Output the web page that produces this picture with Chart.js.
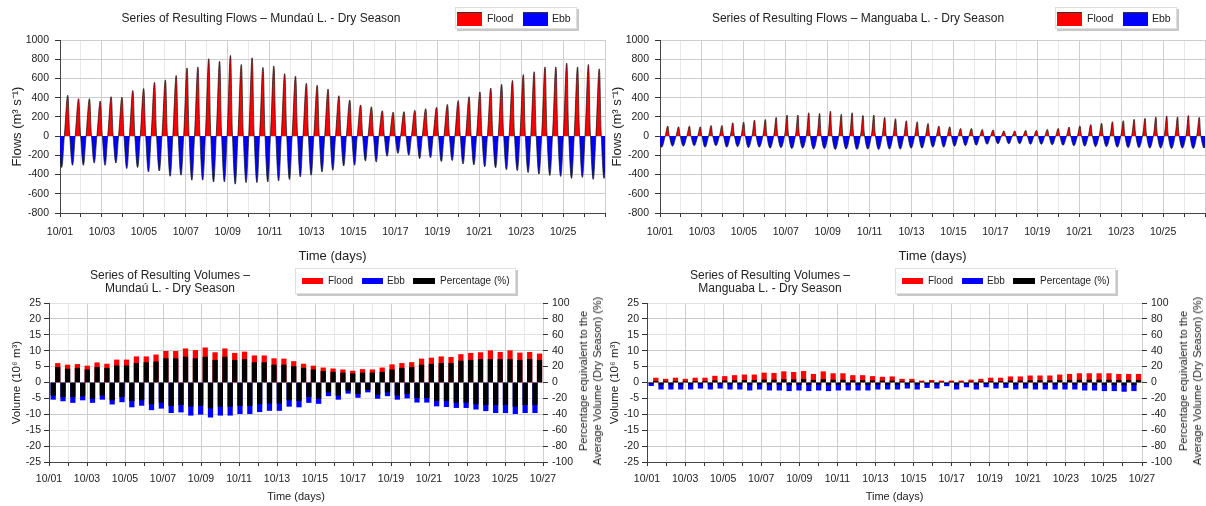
<!DOCTYPE html>
<html>
<head>
<meta charset="utf-8">
<script src="https://cdn.jsdelivr.net/npm/chart.js@4.4.1/dist/chart.umd.min.js"></script>
<style>
  html, body { margin: 0; padding: 0; background: #fff; }
  body { position: relative; width: 1206px; height: 506px; overflow: hidden;
         font-family: 'Liberation Sans', Arial, sans-serif; color: #222; }
  canvas { position: absolute; }
  .title { position: absolute; transform: translateX(-50%); white-space: nowrap;
           text-align: center; font-size: 12px; line-height: 13px; }
  .legend { position: absolute; background: #fff; border: 1px solid #dedede;
            box-shadow: 2px 2px 0 #c8c8c8; }
  .sw { position: absolute; }
  .lt { position: absolute; font-size: 10.5px; line-height: 12px; white-space: nowrap; }
  .lb { position: absolute; font-size: 10px; line-height: 12px; white-space: nowrap; }
  .side { position: absolute; transform: translate(-50%, -50%) rotate(-90deg);
          white-space: nowrap; text-align: center; font-size: 11px; line-height: 14px; }
</style>
</head>
<body>
<canvas id="flowMundau" width="614" height="266" style="left:0;top:0"></canvas>
<canvas id="flowManguaba" width="614" height="266" style="left:600px;top:0"></canvas>
<canvas id="volMundau" width="600" height="244" style="left:0;top:262px"></canvas>
<canvas id="volManguaba" width="606" height="244" style="left:600px;top:262px"></canvas>

<!-- panel titles -->
<div class="title" style="left:261px;top:12px">Series of Resulting Flows – Mundaú L. - Dry Season</div>
<div class="title" style="left:858px;top:12px">Series of Resulting Flows – Manguaba L. - Dry Season</div>
<div class="title" style="left:170px;top:269px">Series of Resulting Volumes –<br>Mundaú L. - Dry Season</div>
<div class="title" style="left:770px;top:269px">Series of Resulting Volumes –<br>Manguaba L. - Dry Season</div>

<!-- flow legends -->
<div class="legend" style="left:455px;top:7px;width:120px;height:20px"></div>
<div class="sw" style="left:457px;top:12px;width:25px;height:13px;background:#ff0000;border-top:1px solid #333"></div>
<div class="lt" style="left:487px;top:12px">Flood</div>
<div class="sw" style="left:523px;top:12px;width:25px;height:13px;background:#0000ff;border-top:1px solid #333"></div>
<div class="lt" style="left:552px;top:12px">Ebb</div>

<div class="legend" style="left:1055px;top:7px;width:120px;height:20px"></div>
<div class="sw" style="left:1057px;top:12px;width:25px;height:13px;background:#ff0000;border-top:1px solid #333"></div>
<div class="lt" style="left:1087px;top:12px">Flood</div>
<div class="sw" style="left:1123px;top:12px;width:25px;height:13px;background:#0000ff;border-top:1px solid #333"></div>
<div class="lt" style="left:1152px;top:12px">Ebb</div>

<!-- volume legends -->
<div class="legend" style="left:295px;top:268px;width:219px;height:24px"></div>
<div class="sw" style="left:302px;top:278px;width:21px;height:6px;background:#ff0000"></div>
<div class="lb" style="left:328px;top:275px">Flood</div>
<div class="sw" style="left:362px;top:278px;width:21px;height:6px;background:#0000ff"></div>
<div class="lb" style="left:387px;top:275px">Ebb</div>
<div class="sw" style="left:413px;top:278px;width:22px;height:6px;background:#000"></div>
<div class="lb" style="left:440px;top:275px">Percentage (%)</div>

<div class="legend" style="left:895px;top:268px;width:219px;height:24px"></div>
<div class="sw" style="left:902px;top:278px;width:21px;height:6px;background:#ff0000"></div>
<div class="lb" style="left:928px;top:275px">Flood</div>
<div class="sw" style="left:962px;top:278px;width:21px;height:6px;background:#0000ff"></div>
<div class="lb" style="left:987px;top:275px">Ebb</div>
<div class="sw" style="left:1013px;top:278px;width:22px;height:6px;background:#000"></div>
<div class="lb" style="left:1040px;top:275px">Percentage (%)</div>

<!-- right-hand axis titles of the volume panels -->
<div class="side" style="left:590px;top:381px">Percentage equivalent to the<br>Average Volume (Dry Season) (%)</div>
<div class="side" style="left:1190px;top:381px">Percentage equivalent to the<br>Average Volume (Dry Season) (%)</div>

<script>
// ---- tick labels -------------------------------------------------------
const dayLabels = ['10/01','10/02','10/03','10/04','10/05','10/06','10/07','10/08','10/09',
  '10/10','10/11','10/12','10/13','10/14','10/15','10/16','10/17','10/18','10/19','10/20',
  '10/21','10/22','10/23','10/24','10/25','10/26','10/27'];

// ---- resulting flows (m³ s⁻¹): peak flood and peak ebb of each tidal cycle ----
const mundauFloodPeak = [425, 390, 390, 365, 410, 405, 475, 495, 560, 585,
  630, 710, 720, 805, 780, 840, 745, 815, 715, 730,
  650, 625, 550, 530, 490, 420, 375, 325, 305, 265,
  250, 255, 270, 285, 300, 330, 370, 410, 460, 500,
  540, 580, 640, 670, 720, 720, 760, 720, 745, 700];
const mundauEbbPeak = [-327, -304, -304, -280, -304, -280, -338, -327, -373, -363,
  -418, -407, -459, -459, -477, -477, -500, -484, -484, -477,
  -466, -452, -425, -407, -373, -356, -311, -304, -259, -269,
  -210, -180, -200, -235, -225, -265, -255, -290, -300, -320,
  -330, -350, -360, -380, -395, -410, -420, -440, -430, -450, -440];

const manguabaFloodPeak = [104, 97, 104, 97, 111, 111, 139, 146, 167, 174,
  195, 219, 219, 243, 236, 260, 226, 243, 215, 219,
  195, 181, 160, 149, 132, 104, 97, 80, 80, 70,
  65, 55, 55, 60, 60, 70, 80, 95, 105, 120,
  135, 150, 160, 175, 185, 200, 210, 200, 215, 195];
const manguabaEbbPeak = [-115, -105, -105, -100, -115, -100, -115, -110, -120, -115,
  -125, -120, -130, -125, -135, -130, -140, -135, -140, -135,
  -140, -135, -135, -125, -125, -115, -115, -105, -100, -95,
  -85, -80, -80, -80, -85, -85, -90, -95, -100, -105,
  -110, -110, -115, -120, -120, -125, -125, -130, -125, -130, -125];

// ---- resulting volumes per tide (10⁶ m³) ----
const mundauFloodVol = [6.0, 5.5, 5.7, 5.2, 6.2, 5.8, 7.1, 7.1, 8.1, 8.1,
  8.7, 9.8, 9.8, 10.6, 10.1, 10.9, 9.4, 10.6, 9.2, 9.6,
  8.4, 8.4, 7.5, 7.4, 6.6, 5.8, 5.2, 4.6, 4.3, 4.0,
  3.6, 4.1, 4.0, 4.6, 5.6, 6.0, 6.3, 7.4, 7.7, 8.1,
  7.9, 8.8, 9.2, 9.4, 10.0, 9.5, 10.0, 9.3, 9.5, 9.0];
const mundauEbbVol = [-5.3, -5.8, -6.3, -5.5, -6.3, -5.3, -6.8, -6.1, -7.7, -7.2,
  -8.6, -8.1, -9.5, -9.3, -10.3, -10.0, -10.9, -10.3, -10.3, -9.8,
  -9.8, -9.2, -8.8, -8.8, -7.5, -7.7, -6.3, -6.6, -4.2, -5.3,
  -3.4, -4.7, -3.0, -5.0, -4.2, -5.3, -4.9, -6.2, -6.2, -7.4,
  -7.6, -7.9, -7.9, -8.4, -8.9, -9.5, -9.5, -9.8, -9.5, -9.5];
// share of the average lagoon volume (%)
const mundauFloodPct = [19, 17, 18, 16, 19, 18, 21, 21, 24, 25,
  26, 30, 30, 32, 30, 32, 28, 32, 28, 29,
  25, 25, 22, 22, 20, 18, 16, 14, 13, 12,
  11, 12, 12, 13, 16, 18, 19, 22, 23, 24,
  24, 27, 28, 29, 29, 29, 29, 28, 29, 28];
const mundauEbbPct = [-16, -18, -18, -17, -20, -16, -22, -18, -23, -22,
  -27, -25, -29, -28, -30, -29, -32, -30, -30, -29,
  -29, -27, -26, -26, -22, -23, -18, -20, -12, -16,
  -10, -14, -9, -15, -12, -16, -14, -19, -19, -23,
  -23, -25, -25, -27, -28, -28, -28, -30, -28, -28];

const manguabaFloodVol = [1.4, 1.05, 1.4, 1.05, 1.4, 1.4, 2.0, 1.9, 2.2, 2.4,
  2.4, 3.0, 2.9, 3.4, 3.2, 3.5, 2.6, 3.4, 2.8, 2.8,
  2.2, 2.2, 1.9, 1.7, 1.8, 1.05, 1.05, 0.5, 0.7, 0.5,
  0.5, 0.5, 0.8, 1.05, 1.4, 1.4, 1.8, 1.8, 2.1, 2.1,
  2.1, 2.4, 2.6, 2.8, 2.8, 2.8, 2.8, 2.6, 2.6, 2.6];
const manguabaEbbVol = [-1.0, -2.1, -2.1, -2.1, -2.1, -1.8, -2.1, -1.8, -2.1, -2.1,
  -2.4, -2.1, -2.4, -2.4, -2.6, -2.4, -2.6, -2.4, -2.6, -2.4,
  -2.4, -2.4, -2.4, -2.1, -2.1, -2.1, -1.8, -2.1, -1.6, -1.8,
  -1.05, -2.1, -1.4, -2.1, -1.4, -1.8, -1.6, -2.1, -1.8, -2.1,
  -2.1, -2.1, -2.1, -2.1, -2.4, -2.4, -2.6, -2.6, -2.8, -2.6];
const manguabaFloodPct = [1.5, 1.2, 1.5, 1.2, 1.5, 1.5, 2.2, 2.1, 2.4, 2.6,
  2.6, 3.3, 3.2, 3.7, 3.5, 3.9, 2.9, 3.7, 3.1, 3.1,
  2.4, 2.4, 2.1, 1.9, 2.0, 1.2, 1.2, 0.6, 0.8, 0.6,
  0.6, 0.6, 0.9, 1.2, 1.5, 1.5, 2.0, 2.0, 2.3, 2.3,
  2.3, 2.6, 2.9, 3.1, 3.1, 3.1, 3.1, 2.9, 2.9, 2.9];
const manguabaEbbPct = [-1.1, -2.3, -2.3, -2.3, -2.3, -2.0, -2.3, -2.0, -2.3, -2.3,
  -2.6, -2.3, -2.6, -2.6, -2.9, -2.6, -2.9, -2.6, -2.9, -2.6,
  -2.6, -2.6, -2.6, -2.3, -2.3, -2.3, -2.0, -2.3, -1.8, -2.0,
  -1.2, -2.3, -1.5, -2.3, -1.5, -2.0, -1.8, -2.3, -2.0, -2.3,
  -2.3, -2.3, -2.3, -2.3, -2.6, -2.6, -2.9, -2.9, -3.1, -2.9];

// ---- tidal timing (days after 10/01 00:00) ----
const TIDE_PERIOD = 12.42 / 24;     // semidiurnal cycle
const FLOW_EBB_T0 = 0.08;           // first ebb peak
const FLOW_FLOOD_T0 = 0.367;        // first flood peak
const VOL_EBB_T0 = 0.22;            // first ebb volume bar
const VOL_FLOOD_T0 = 0.46;          // first flood volume bar

Chart.defaults.font.family = "'Liberation Sans', Arial, sans-serif";
Chart.defaults.color = '#222';

// slack water -> peak -> slack water for every half cycle;
// rise/fall give the flood-lobe duration before and after its peak (days)
function flowSeries(flood, ebb, rise, fall) {
  const lead = FLOW_FLOOD_T0 + fall - FLOW_EBB_T0 - TIDE_PERIOD;   // slack before ebb peak
  const pts = [];
  ebb.forEach((v, i) => {
    const tEbb = FLOW_EBB_T0 + i * TIDE_PERIOD;
    pts.push({ x: tEbb + lead, y: 0 }, { x: tEbb, y: v });
    if (i < flood.length) {
      const tFlood = FLOW_FLOOD_T0 + i * TIDE_PERIOD;
      pts.push({ x: tFlood - rise, y: 0 }, { x: tFlood, y: flood[i] });
    }
  });
  pts.push({ x: FLOW_EBB_T0 + (ebb.length - 1) * TIDE_PERIOD + 0.14, y: 0 });
  return pts;
}

function tideBars(values, t0) {
  return values.map((v, i) => ({ x: t0 + i * TIDE_PERIOD, y: v }));
}

function dayAxis(o) {
  return {
    type: 'linear', min: 0, max: 26, offset: false,
    afterBuildTicks: s => { s.ticks = dayLabels.map((_, i) => ({ value: i })); },
    ticks: {
      autoSkip: false, maxRotation: 0, minRotation: 0, padding: o.pad,
      font: { size: 10.5 }, color: '#222',
      callback: v => (v % 2 === 0 && v <= o.lastLabel) ? dayLabels[v] : ''
    },
    grid: {
      offset: false, tickLength: 4, tickColor: '#333',
      color: c => (c.tick && c.tick.value % 2 === 0) ? '#cfcfcf' : '#e9e9e9'
    },
    border: { color: '#444' },
    title: { display: true, text: 'Time (days)', font: { size: o.titleSize },
             color: '#222', padding: { top: 0, bottom: 2 } },
    afterFit: s => { s.height = o.height; }
  };
}

function flowChart(id, flood, ebb, rise, fall) {
  new Chart(document.getElementById(id), {
    type: 'line',
    data: {
      datasets: [{
        label: 'Flow',
        data: flowSeries(flood, ebb, rise, fall),
        borderColor: '#111', borderWidth: 0.7, pointRadius: 0,
        tension: 0.4,
        fill: { target: 'origin', above: '#ff0000', below: '#0000ff' }
      }]
    },
    options: {
      responsive: false, animation: false, devicePixelRatio: 1,
      layout: { padding: { top: 40, left: 0, right: 0, bottom: 0 } },
      plugins: { legend: { display: false }, tooltip: { enabled: false } },
      scales: {
        x: dayAxis({ pad: 9, lastLabel: 24, titleSize: 13, height: 53 }),
        y: {
          min: -800, max: 1000,
          ticks: { stepSize: 100, padding: 6, font: { size: 10.5 }, color: '#222',
                   callback: v => v % 200 === 0 ? String(v) : '' },
          grid: { tickLength: 5, tickColor: '#333',
                  color: c => (c.tick && c.tick.value % 200 === 0) ? '#cdcdcd' : '#ececec' },
          border: { color: '#444' },
          title: { display: true, text: 'Flows (m³ s⁻¹)', font: { size: 13 },
                   color: '#222', padding: { top: 10, bottom: 0 } },
          afterFit: s => { s.width = 60; }
        }
      }
    }
  });
}

function volumeChart(id, floodVol, ebbVol, floodPct, ebbPct, leftW, rightW, titlePad) {
  const common = { grouped: false, barThickness: 4.6, borderWidth: 0 };
  new Chart(document.getElementById(id), {
    type: 'bar',
    data: {
      datasets: [
        Object.assign({ label: 'Percentage (%)', data: tideBars(floodPct, VOL_FLOOD_T0),
          backgroundColor: '#000', yAxisID: 'y1', order: 0 }, common),
        Object.assign({ label: 'Percentage (%)', data: tideBars(ebbPct, VOL_EBB_T0),
          backgroundColor: '#000', yAxisID: 'y1', order: 0 }, common),
        Object.assign({ label: 'Flood', data: tideBars(floodVol, VOL_FLOOD_T0),
          backgroundColor: '#ff0000', yAxisID: 'y', order: 1 }, common),
        Object.assign({ label: 'Ebb', data: tideBars(ebbVol, VOL_EBB_T0),
          backgroundColor: '#0000ff', yAxisID: 'y', order: 1 }, common)
      ]
    },
    options: {
      responsive: false, animation: false, devicePixelRatio: 1,
      layout: { padding: { top: 41, left: 0, right: 0, bottom: 0 } },
      plugins: { legend: { display: false }, tooltip: { enabled: false } },
      scales: {
        x: dayAxis({ pad: 7, lastLabel: 26, titleSize: 11, height: 44 }),
        y: {
          position: 'left', min: -25, max: 25,
          ticks: { stepSize: 2.5, padding: 3, font: { size: 10.5 }, color: '#222',
                   callback: v => Math.abs(v % 5) < 1e-6 ? String(v) : '' },
          grid: { tickLength: 5, tickColor: '#333',
                  color: c => {
                    const v = c.tick ? c.tick.value : 0;
                    if (Math.abs(v % 10) < 1e-6) return '#cacaca';
                    if (Math.abs(v % 5) < 1e-6) return '#e2e2e2';
                    return '#f1f1f1';
                  } },
          border: { color: '#444' },
          title: { display: true, text: 'Volume (10⁶ m³)', font: { size: 11.5 },
                   color: '#222', padding: { top: titlePad, bottom: 0 } },
          afterFit: s => { s.width = leftW; }
        },
        y1: {
          position: 'right', min: -100, max: 100,
          ticks: { stepSize: 10, padding: 4, font: { size: 10.5 }, color: '#222',
                   callback: v => v % 20 === 0 ? String(v) : '' },
          grid: { drawOnChartArea: false, tickLength: 5, tickColor: '#333' },
          border: { display: false },
          afterFit: s => { s.width = rightW; }
        }
      }
    }
  });
}

flowChart('flowMundau', mundauFloodPeak, mundauEbbPeak, 0.16, 0.10);
flowChart('flowManguaba', manguabaFloodPeak, manguabaEbbPeak, 0.12, 0.08);
volumeChart('volMundau', mundauFloodVol, mundauEbbVol, mundauFloodPct, mundauEbbPct, 49, 57, 10);
volumeChart('volManguaba', manguabaFloodVol, manguabaEbbVol, manguabaFloodPct, manguabaEbbPct, 47, 64, 8);
</script>
</body>
</html>
